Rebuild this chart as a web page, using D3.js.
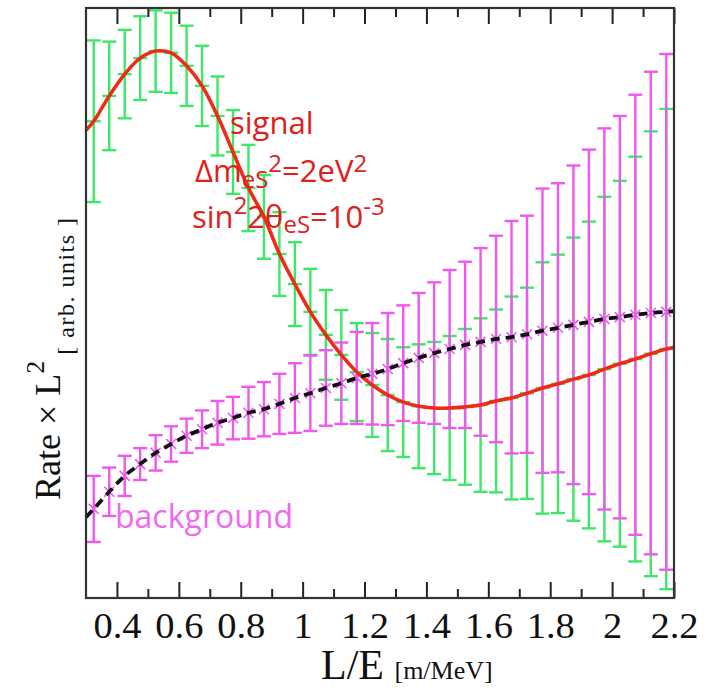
<!DOCTYPE html>
<html><head><meta charset="utf-8">
<script src="https://cdn.jsdelivr.net/npm/d3@7"></script>
<style>body{margin:0;background:#fff}svg{display:block}</style>
</head><body>
<svg id="c" width="711" height="691"></svg>
<script>
// ---- data (arbitrary units) ----
const binCenters = [0.325,0.375,0.425,0.475,0.525,0.575,0.625,0.675,0.725,0.775,
  0.825,0.875,0.925,0.975,1.025,1.075,1.125,1.175,1.225,1.275,
  1.325,1.375,1.425,1.475,1.525,1.575,1.625,1.675,1.725,1.775,
  1.825,1.875,1.925,1.975,2.025,2.075,2.125,2.175];
const signal = [8.08,8.51,8.88,9.15,9.27,9.24,9.02,8.68,8.17,7.56,
  6.95,6.46,5.83,5.32,4.85,4.46,4.12,3.83,3.61,3.44,
  3.32,3.25,3.22,3.22,3.24,3.27,3.34,3.39,3.47,3.56,
  3.63,3.71,3.78,3.88,3.97,4.05,4.14,4.22];
const signalErr = [1.37,0.92,0.75,0.71,0.69,0.68,0.68,0.68,0.67,0.71,
  0.73,0.71,0.71,0.71,0.73,0.76,0.76,0.83,0.88,0.95,
  0.93,1.05,1.12,1.22,1.32,1.47,1.55,1.72,1.79,2.13,
  2.19,2.40,2.60,2.92,3.10,3.43,3.77,4.07];
const background = [1.51,1.80,2.07,2.27,2.46,2.61,2.75,2.86,2.97,3.05,
  3.14,3.20,3.29,3.39,3.47,3.56,3.64,3.73,3.80,3.88,
  3.98,4.07,4.15,4.22,4.29,4.34,4.39,4.42,4.47,4.53,
  4.58,4.63,4.68,4.73,4.76,4.80,4.83,4.85];
const backgroundErr = [0.56,0.41,0.34,0.27,0.30,0.30,0.29,0.32,0.37,0.36,
  0.44,0.46,0.51,0.59,0.64,0.64,0.69,0.78,0.86,0.95,
  0.98,1.10,1.20,1.34,1.41,1.59,1.75,1.97,2.01,2.41,
  2.45,2.70,2.92,3.23,3.41,3.73,4.09,4.37];
const curveEndsX = [0.3, 2.2];
const signalEnds = [7.93, 4.25];
const backgroundEnds = [1.37, 4.86];
const xMajorTicks = [0.4,0.6,0.8,1.0,1.2,1.4,1.6,1.8,2.0,2.2];
const xMinorTicks = [0.5,0.7,0.9,1.1,1.3,1.5,1.7,1.9,2.1];
const xDomain = [0.3, 2.2];
const yDomain = [0, 10];

// ---- layout ----
const L = 86, R = 674, T = 8, B = 598;
const svg = d3.select('#c');
const x = d3.scaleLinear().domain(xDomain).range([L, R]);
const y = d3.scaleLinear().domain(yDomain).range([B, T]);

const GREEN = '#3de868', MAG = '#f057ef', RED = '#ef2b18', TXTRED = '#e0201a';
const cap = 7;

const g = svg.append('g');

// green (signal + background) error bars
const gb = g.append('g').attr('stroke', GREEN).attr('stroke-width', 2.4).attr('fill','none');
binCenters.forEach((c, i) => {
  const cx = x(c), y0 = y(signal[i] - signalErr[i]), y1 = y(signal[i] + signalErr[i]);
  gb.append('line').attr('x1', cx).attr('x2', cx).attr('y1', y0).attr('y2', y1);
  gb.append('line').attr('x1', cx - cap).attr('x2', cx + cap).attr('y1', y0).attr('y2', y0);
  gb.append('line').attr('x1', cx - cap).attr('x2', cx + cap).attr('y1', y1).attr('y2', y1);
  gb.append('line').attr('x1', cx - cap).attr('x2', cx + cap).attr('y1', y(signal[i])).attr('y2', y(signal[i]));
});

// magenta (background) error bars
const mb = g.append('g').attr('stroke', MAG).attr('stroke-width', 2.4).attr('fill','none');
binCenters.forEach((c, i) => {
  const cx = x(c), y0 = y(background[i] - backgroundErr[i]), y1 = y(background[i] + backgroundErr[i]);
  mb.append('line').attr('x1', cx).attr('x2', cx).attr('y1', y0).attr('y2', y1);
  mb.append('line').attr('x1', cx - cap).attr('x2', cx + cap).attr('y1', y0).attr('y2', y0);
  mb.append('line').attr('x1', cx - cap).attr('x2', cx + cap).attr('y1', y1).attr('y2', y1);
  const cy = y(background[i]), s = 5;
  mb.append('line').attr('x1', cx - s).attr('x2', cx + s).attr('y1', cy - s).attr('y2', cy + s).attr('stroke-width', 1.6);
  mb.append('line').attr('x1', cx - s).attr('x2', cx + s).attr('y1', cy + s).attr('y2', cy - s).attr('stroke-width', 1.6);
});

// curves
function pts(vals, ends) {
  return [[curveEndsX[0], ends[0]], ...binCenters.map((c, i) => [c, vals[i]]), [curveEndsX[1], ends[1]]];
}
const line = d3.line().x(d => x(d[0])).y(d => y(d[1])).curve(d3.curveCatmullRom.alpha(0.5));
g.append('path').attr('d', line(pts(signal, signalEnds)))
  .attr('fill', 'none').attr('stroke', RED).attr('stroke-width', 3.6);
g.append('path').attr('d', line(pts(background, backgroundEnds)))
  .attr('fill', 'none').attr('stroke', '#111').attr('stroke-width', 3.8)
  .attr('stroke-dasharray', '9,6');

// axes
const serif = '"Liberation Serif", "Times New Roman", serif';
const axB = svg.append('g').attr('transform', `translate(0,${B})`)
  .call(d3.axisBottom(x).tickValues(xMajorTicks).tickSizeInner(-16).tickSizeOuter(0).tickPadding(15)
    .tickFormat(d => d3.format('')(+d.toFixed(1))));
axB.select('.domain').remove();
axB.selectAll('line').attr('stroke', '#222').attr('stroke-width', 2);
axB.selectAll('text').attr('font-family', serif)
  .attr('font-size', 35).attr('fill', '#111').attr('transform', 'scale(1.1,1)');
const axBm = svg.append('g').attr('transform', `translate(0,${B})`)
  .call(d3.axisBottom(x).tickValues(xMinorTicks).tickSizeInner(-9).tickSizeOuter(0).tickFormat(''));
axBm.select('.domain').remove();
axBm.selectAll('line').attr('stroke', '#222').attr('stroke-width', 2);
const axT = svg.append('g').attr('transform', `translate(0,${T})`)
  .call(d3.axisTop(x).tickValues(xMajorTicks).tickSizeInner(-16).tickSizeOuter(0).tickFormat(''));
axT.select('.domain').remove();
axT.selectAll('line').attr('stroke', '#222').attr('stroke-width', 2);
const axTm = svg.append('g').attr('transform', `translate(0,${T})`)
  .call(d3.axisTop(x).tickValues(xMinorTicks).tickSizeInner(-9).tickSizeOuter(0).tickFormat(''));
axTm.select('.domain').remove();
axTm.selectAll('line').attr('stroke', '#222').attr('stroke-width', 2);

// frame
svg.append('rect').attr('x', L).attr('y', T).attr('width', R - L).attr('height', B - T)
  .attr('fill', 'none').attr('stroke', '#333').attr('stroke-width', 2.2);

// axis titles
const xt = svg.append('text').attr('x', 321).attr('y', 679).attr('font-family', serif).attr('fill', '#111');
xt.append('tspan').attr('font-size', 42).text('L/E ');
xt.append('tspan').attr('font-size', 26).text('[m/MeV]');

const yt = svg.append('text').attr('transform', 'translate(60,500) rotate(-90)')
  .attr('font-family', serif).attr('fill', '#111');
yt.append('tspan').attr('font-size', 36).text('Rate × L');
yt.append('tspan').attr('font-size', 26).attr('dy', -16).text('2');
yt.append('tspan').attr('font-size', 24).attr('dy', 30).attr('dx', 6)
  .attr('letter-spacing', 1.5).text('[ arb. units ]');

// annotations
const sans = '"Open Sans", "Noto Sans", sans-serif';
svg.append('text').attr('x', 230).attr('y', 134).attr('font-family', sans).attr('font-size', 31)
  .attr('fill', TXTRED).text('signal');
const t2 = svg.append('text').attr('x', 195).attr('y', 182).attr('font-family', sans).attr('font-size', 31).attr('fill', TXTRED);
t2.append('tspan').text('Δm');
t2.append('tspan').attr('font-size', 24).attr('dy', 6).text('eS');
t2.append('tspan').attr('font-size', 24).attr('dy', -16).text('2');
t2.append('tspan').attr('dy', 10).text('=2eV');
t2.append('tspan').attr('font-size', 24).attr('dy', -10).text('2');
const t3 = svg.append('text').attr('x', 192).attr('y', 228).attr('font-family', sans).attr('font-size', 31).attr('fill', TXTRED);
t3.append('tspan').text('sin');
t3.append('tspan').attr('font-size', 24).attr('dy', -14).text('2');
t3.append('tspan').attr('dy', 14).text('2θ');
t3.append('tspan').attr('font-size', 24).attr('dy', 5).text('eS');
t3.append('tspan').attr('dy', -5).text('=10');
t3.append('tspan').attr('font-size', 24).attr('dy', -13).text('-3');

svg.append('text').attr('x', 115).attr('y', 528).attr('font-family', sans).attr('font-size', 32)
  .attr('fill', '#ee6bee').text('background');
</script>
</body></html>
